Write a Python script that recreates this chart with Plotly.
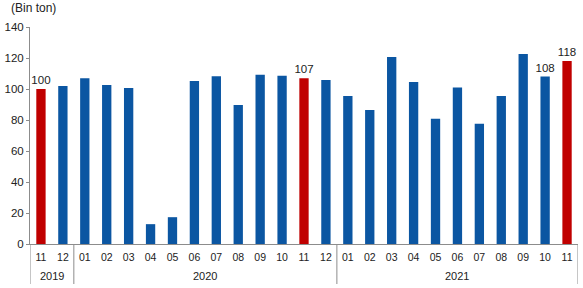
import plotly.graph_objects as go

years = ["2019"] * 2 + ["2020"] * 12 + ["2021"] * 11
months = ["11", "12", "01", "02", "03", "04", "05", "06", "07", "08", "09", "10", "11", "12",
          "01", "02", "03", "04", "05", "06", "07", "08", "09", "10", "11"]
values = [100, 102, 107, 102.6, 100.6, 12.8, 17.3, 105.1, 108.3, 89.7, 109.2, 108.5, 107, 105.8,
          95.5, 86.5, 120.7, 104.5, 80.8, 100.9, 77.6, 95.5, 122.6, 108, 118]
labels = ["100", "", "", "", "", "", "", "", "", "", "", "", "107", "",
          "", "", "", "", "", "", "", "", "", "108", "118"]
highlight = [0, 12, 24]
year_groups = ["2019", "2020", "2021"]

BLUE = "#0B56A2"
RED = "#C00000"
GRAY = "#8C8C8C"
FONT = "Liberation Sans, Arial, sans-serif"

cats = [f"{m}/{y}" for y, m in zip(years, months)]
colors = [RED if i in highlight else BLUE for i in range(len(values))]

fig = go.Figure(go.Bar(
    x=cats, y=values, marker_color=colors, marker_line_width=0,
    text=labels, textposition="outside", cliponaxis=False, constraintext="none",
    textfont=dict(family=FONT, size=11.5, color="#222"),
))

annotations = [dict(text="(Bin ton)", x=0, y=1, xref="paper", yref="paper",
                    xshift=-21, yshift=10, xanchor="left", yanchor="bottom",
                    showarrow=False, font=dict(family=FONT, size=12, color="#222"))]
shapes = []
bounds = [-0.5]
for yg in year_groups:
    idx = [i for i, y in enumerate(years) if y == yg]
    bounds.append(idx[-1] + 0.5)
    annotations.append(dict(text=yg, x=(idx[0] + idx[-1]) / 2, xref="x", y=0, yref="paper",
                            yshift=-32, yanchor="middle", showarrow=False,
                            font=dict(family=FONT, size=11, color="#222")))
for b in bounds:
    shapes.append(dict(type="line", xref="x", yref="paper", x0=b, x1=b, y0=0, y1=-40 / 217,
                       line=dict(color=GRAY, width=1)))

fig.update_layout(
    width=583, height=288, margin=dict(l=30, r=5, t=27, b=44),
    paper_bgcolor="white", plot_bgcolor="white", showlegend=False,
    bargap=0.575,
    font=dict(family=FONT, size=11, color="#222"),
    annotations=annotations, shapes=shapes,
)
fig.update_yaxes(range=[0, 140], dtick=20, showgrid=False, showline=True, linecolor=GRAY,
                 linewidth=1, ticks="outside", ticklen=3, tickcolor=GRAY, zeroline=False,
                 tickfont=dict(size=11.5))
fig.update_xaxes(type="category", showline=True, linecolor=GRAY, linewidth=1, showgrid=False,
                 ticks="", tickmode="array", tickvals=cats, ticktext=months, tickangle=0,
                 ticklabelstandoff=3,
                 range=[-0.5, len(cats) - 0.5], tickfont=dict(size=10.5))

fig.write_html("out.html")
